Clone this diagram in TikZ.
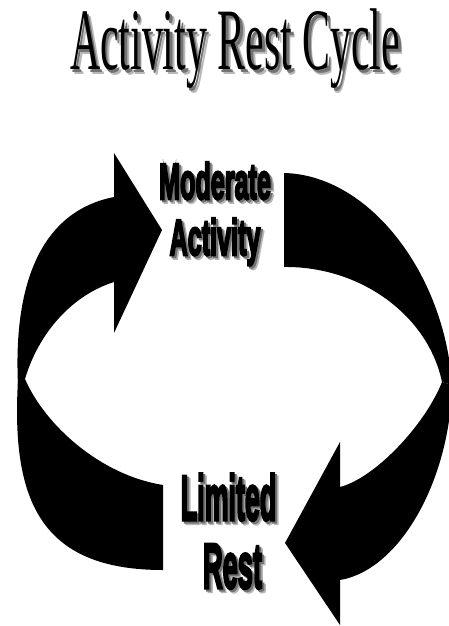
\documentclass[tikz,border=0pt]{standalone}
\usepackage{fontspec}
\newfontfamily\titlefont{Liberation Serif}
\newfontfamily\impactfont[FakeBold=5]{Liberation Sans Bold}
\newcommand{\shadowed}[3]{\leavevmode\rlap{\hspace{#2}\raisebox{-#2}{\color{black!28}#1}}\rlap{\hspace{#3}\raisebox{-#3}{\color{black!55}#1}}#1}
\begin{document}
\begin{tikzpicture}[x=1pt,y=-1pt,
  band/.style={fill=black,draw=none},
  word/.style={anchor=base,inner sep=0pt,text=black}]
\useasboundingbox (0,0) rectangle (449,626);
\clip (0,0) rectangle (449,626);
% top-left arrow
\fill[band] (18,385) .. controls (13,280) and (43,211) .. (114,197)
  -- (114,153) -- (162,230) -- (114,333) -- (114,282)
  .. controls (70,296) and (38,335) .. (25,379) -- cycle;
% bottom-left band
\fill[band] (18,380) .. controls (11,500) and (40,570) .. (163,570)
  -- (163,485) .. controls (100,475) and (45,425) .. (25,379) -- cycle;
% top-right band
\fill[band] (284,173) .. controls (370,175) and (445,275) .. (452,385)
  -- (442,382) .. controls (428,315) and (360,266) .. (284,267) -- cycle;
% bottom-right arrow
\fill[band] (452,385) .. controls (450,480) and (400,570) .. (340,580)
  -- (340,625) -- (285,543) -- (340,442) -- (340,487)
  .. controls (375,478) and (425,425) .. (442,382) -- cycle;
% title
\node[word] (title) at (235,70) {\shadowed{\scalebox{0.4775}[1]{\titlefont\fontsize{87.6}{88}\selectfont Activity Rest Cycle}}{4.5pt}{2.7pt}};
% Moderate Activity
\node[word] (mod) at (215,199) {\shadowed{\scalebox{0.535}[1.08]{\impactfont\fontsize{47}{47}\selectfont Moderate}}{3.5pt}{2pt}};
\node[word] (act) at (215,255) {\shadowed{\scalebox{0.535}[1.08]{\impactfont\fontsize{47}{47}\selectfont Activity}}{3.5pt}{2pt}};
% Limited Rest
\node[word] (lim) at (228.5,520) {\shadowed{\scalebox{0.455}[1.08]{\impactfont\fontsize{59}{59}\selectfont Limited}}{3.5pt}{2pt}};
\node[word] (rest) at (232.5,588) {\shadowed{\scalebox{0.46}[1.08]{\impactfont\fontsize{59}{59}\selectfont Rest}}{3.5pt}{2pt}};
\end{tikzpicture}
\end{document}
